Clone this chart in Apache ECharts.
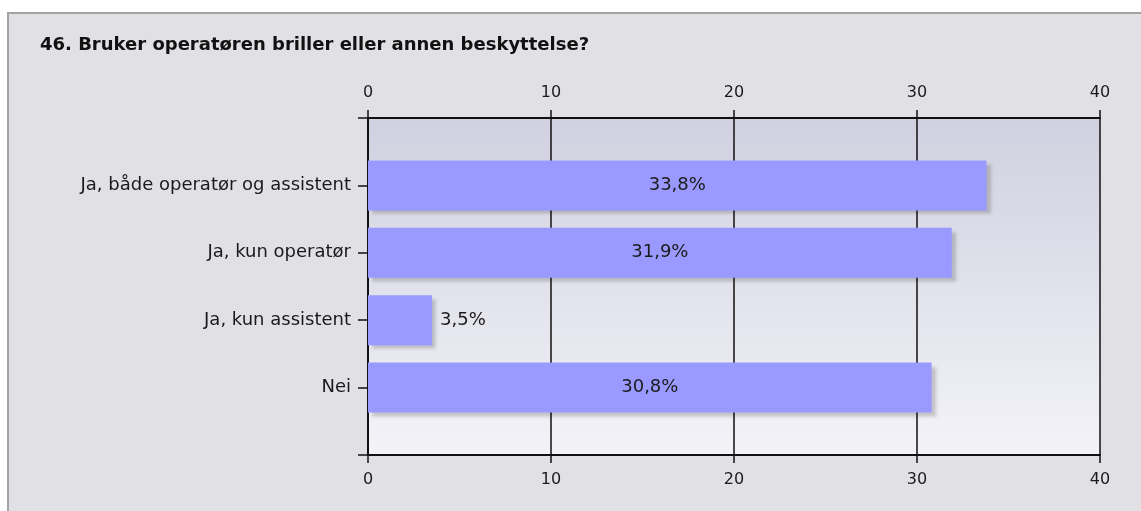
<!DOCTYPE html>
<html>
<head>
<meta charset="utf-8">
<script src="https://cdn.jsdelivr.net/npm/echarts@6/dist/echarts.min.js"></script>
<style>
  html, body { margin: 0; padding: 0; background: #fff; }
  #frame {
    position: absolute; left: 7px; top: 12px; right: 0; bottom: 0;
    background: #e1e0e5;
    border-left: 2px solid #a3a3a3;
    border-top: 2px solid #a3a3a3;
  }
  #chart { position: absolute; left: 0; top: 0; width: 1141px; height: 511px; }
</style>
</head>
<body>
<div id="frame"></div>
<div id="chart"></div>
<script>
const title = '46. Bruker operatøren briller eller annen beskyttelse?'
const categories = ['Ja, både operatør og assistent', 'Ja, kun operatør', 'Ja, kun assistent', 'Nei']
const values = [33.8, 31.9, 3.5, 30.8]
const axisTicks = [0, 10, 20, 30, 40]

const font = '"DejaVu Sans", Verdana, sans-serif'

// empty slots top and bottom so bars sit on the inner boundaries
const yCats = [''].concat(categories, [''])
const barData = ['-'].concat(values.map(v => ({
  value: v,
  label: { position: v < 10 ? 'right' : 'inside' }
})), ['-'])

const xAxisBase = {
  type: 'value',
  min: axisTicks[0],
  max: axisTicks[axisTicks.length - 1],
  interval: axisTicks[1] - axisTicks[0],
  axisLine: { show: true, lineStyle: { color: '#111', width: 2 } },
  axisTick: { show: true, length: 8, lineStyle: { color: '#111', width: 1.5 } },
  axisLabel: { color: '#1a1a1a', fontSize: 16, fontFamily: font, margin: 17 },
}

const chart = echarts.init(document.getElementById('chart'), null, { renderer: 'canvas' })
chart.setOption({
  backgroundColor: 'transparent',
  animation: false,
  title: {
    text: title,
    left: 35,
    top: 31,
    textStyle: { fontFamily: font, fontSize: 18, fontWeight: 'bold', color: '#111' }
  },
  grid: {
    left: 368,
    right: 41,
    top: 118,
    bottom: 56,
    show: true,
    borderWidth: 0,
    backgroundColor: {
      type: 'linear', x: 0, y: 0, x2: 0, y2: 1,
      colorStops: [
        { offset: 0, color: '#d0d0e0' },
        { offset: 1, color: '#f3f3f8' }
      ]
    }
  },
  xAxis: [
    Object.assign({}, xAxisBase, {
      position: 'top',
      splitLine: { show: true, lineStyle: { color: '#111', width: 1.5 } }
    }),
    Object.assign({}, xAxisBase, {
      position: 'bottom',
      splitLine: { show: false }
    })
  ],
  yAxis: {
    type: 'category',
    inverse: true,
    boundaryGap: false,
    data: yCats,
    axisLine: { show: true, lineStyle: { color: '#111', width: 2 } },
    axisTick: {
      show: true,
      length: 10,
      interval: 0,
      lineStyle: { color: '#111', width: 1.5 }
    },
    axisLabel: { interval: 0, color: '#1a1a1a', fontSize: 18, fontFamily: font, margin: 17 },
    splitLine: { show: false }
  },
  series: [{
    type: 'bar',
    xAxisIndex: 0,
    barWidth: 50,
    data: barData,
    itemStyle: {
      color: '#9999ff',
      shadowColor: 'rgba(0,0,0,0.18)',
      shadowBlur: 3,
      shadowOffsetX: 4,
      shadowOffsetY: 4
    },
    label: {
      show: true,
      color: '#1a1a1a',
      fontSize: 18,
      fontFamily: font,
      distance: 8,
      formatter: p => p.value.toFixed(1).replace('.', ',') + '%'
    }
  }]
})
</script>
</body>
</html>
